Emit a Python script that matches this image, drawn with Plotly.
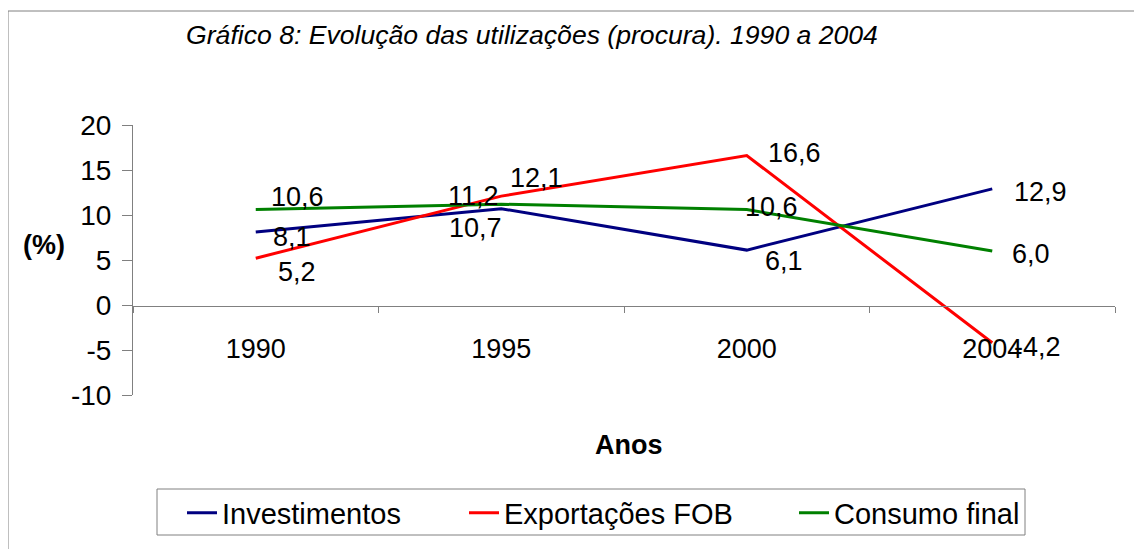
import plotly.graph_objects as go

# ---- data ----
years = ["1990", "1995", "2000", "2004"]
series_names = ["Investimentos", "Exportações FOB", "Consumo final"]
investimentos = [8.1, 10.7, 6.1, 12.9]
exportacoes = [5.2, 12.1, 16.6, -4.2]
consumo = [10.6, 11.2, 10.6, 6.0]
y_ticks = [-10, -5, 0, 5, 10, 15, 20]
y_tick_text = ["-10", "-5", "0", "5", "10", "15", "20"]

# ---- styles ----
colors = ["#000080", "#FF0000", "#008000"]
# label offsets (px) per series per point: (dx right, dy down)
label_offsets = [
    [(36, 5), (-26, 19), (37, 11), (48, 3)],
    [(41, 14), (35, -18), (48, -3), (45, 4)],
    [(42, -13), (-28, -8), (25, -3), (39, 3)],
]
legend_text_x = [223, 505, 835]   # reference pixel x where legend texts start
FONT = "Liberation Sans, Arial, sans-serif"
FS = 27
LEG_FS = 29

OFF = 8  # page body margin
W, H = 1142 - OFF, 549 - OFF
L, T = 133 - OFF, 125 - OFF
R = W - (1115 - OFF)
B = H - (395 - OFF)
PW, PH = W - L - R, H - T - B


def px_x(p):
    return (p - OFF - L) / PW


def px_y(p):
    return (H - B - (p - OFF)) / PH


fig = go.Figure()
all_series = [investimentos, exportacoes, consumo]
legend_ids = ["legend", "legend2", "legend3"]
for name, vals, col, lg in zip(series_names, all_series, colors, legend_ids):
    fig.add_trace(go.Scatter(x=years, y=vals, name=name, mode="lines",
                             line=dict(color=col, width=3), legend=lg,
                             showlegend=True))

annotations = []
for vals, offs in zip(all_series, label_offsets):
    for i, (v, (dx, dy)) in enumerate(zip(vals, offs)):
        annotations.append(dict(
            x=i, y=v, xref="x", yref="y",
            text=f"{v:.1f}".replace(".", ","),
            showarrow=False, xanchor="center", yanchor="middle",
            xshift=dx, yshift=-dy,
            font=dict(family=FONT, size=FS, color="black")))

annotations.append(dict(x=px_x(43.5), y=px_y(245), xref="paper", yref="paper",
                        text="<b>(%)</b>", showarrow=False,
                        xanchor="center", yanchor="middle",
                        font=dict(family=FONT, size=FS, color="black")))
annotations.append(dict(x=px_x(628.5), y=px_y(445), xref="paper", yref="paper",
                        text="<b>Anos</b>", showarrow=False,
                        xanchor="center", yanchor="middle",
                        font=dict(family=FONT, size=FS, color="black")))

legends = {}
for lg, tx in zip(legend_ids, legend_text_x):
    legends[lg] = dict(orientation="h", x=px_x(tx - 41), y=px_y(513),
                       xanchor="left", yanchor="middle", visible=True,
                       borderwidth=0, bgcolor="rgba(0,0,0,0)",
                       font=dict(family=FONT, size=LEG_FS, color="black"))

fig.update_layout(
    width=W, height=H,
    showlegend=True,
    margin=dict(l=L, r=R, t=T, b=B, autoexpand=False),
    paper_bgcolor="white", plot_bgcolor="white",
    font=dict(family=FONT, size=FS, color="black"),
    title=dict(text="<i>Gráfico 8: Evolução das utilizações (procura). 1990 a 2004</i>",
               x=(532 - OFF) / W, xref="container", xanchor="center",
               y=1 - (35 - OFF) / H, yref="container", yanchor="middle",
               font=dict(family=FONT, size=26.6, color="black")),
    xaxis=dict(type="category", categoryorder="array", categoryarray=years,
               range=[-0.5, 3.5], anchor="free", position=px_y(305.7),
               showline=True, linecolor="#808080", linewidth=1,
               ticks="outside", ticklen=6, tickcolor="#808080", tickson="boundaries",
               showgrid=False, zeroline=False, ticklabelstandoff=19,
               tickfont=dict(family=FONT, size=FS)),
    yaxis=dict(range=[-10, 20], tickvals=y_ticks, ticktext=y_tick_text, showline=True,
               linecolor="#808080", linewidth=1, ticks="outside", ticklen=10,
               tickcolor="#808080", showgrid=False, zeroline=False,
               ticklabelstandoff=5, tickfont=dict(family=FONT, size=28)),
    annotations=annotations,
    shapes=[
        dict(type="rect", xref="paper", yref="paper",
             x0=px_x(8), y0=-2, x1=3, y1=px_y(11),
             line=dict(color="#808080", width=1), layer="below"),
        dict(type="rect", xref="paper", yref="paper",
             x0=px_x(157), y0=px_y(535), x1=px_x(1025), y1=px_y(489),
             line=dict(color="#808080", width=1), fillcolor="white", layer="below"),
    ],
    **legends,
)

fig.write_html("out.html")
